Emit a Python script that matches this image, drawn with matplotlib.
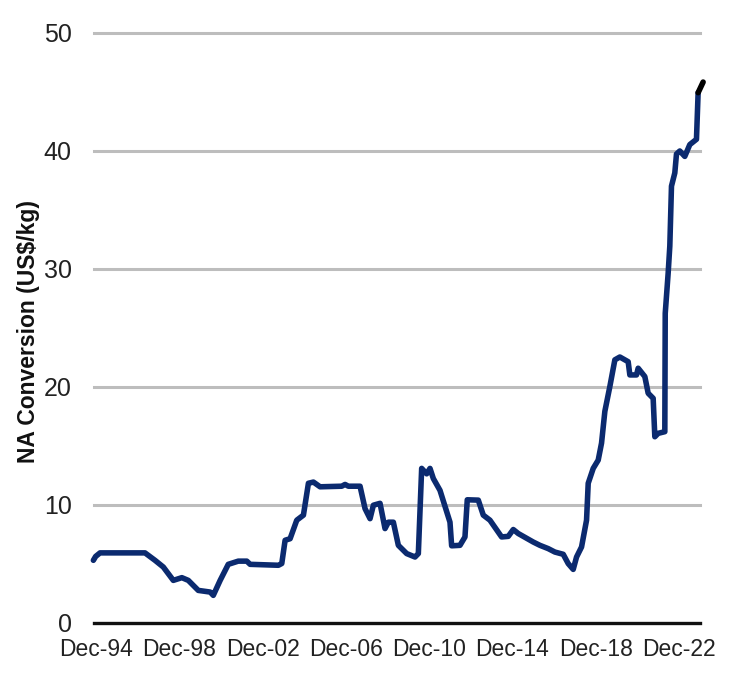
import matplotlib
matplotlib.use("Agg")
import matplotlib.pyplot as plt

# Data (decimal years, US$/kg)
years = [1994.79, 1994.9, 1995.11, 1997.27, 1997.75, 1998.15, 1998.63, 1999.04, 1999.35,
         1999.83, 2000.4, 2000.55, 2000.88, 2001.27, 2001.75, 2002.16, 2002.32, 2003.68,
         2003.84, 2004.0, 2004.24, 2004.56, 2004.88, 2005.12, 2005.36, 2005.68, 2006.72,
         2006.88, 2007.04, 2007.6, 2007.84, 2008.08, 2008.24, 2008.56, 2008.8, 2008.96,
         2009.2, 2009.44, 2009.84, 2010.24, 2010.4, 2010.56, 2010.8, 2010.96, 2011.12,
         2011.44, 2011.92, 2012.0, 2012.4, 2012.64, 2012.75, 2013.28, 2013.52, 2013.84,
         2014.4, 2014.72, 2014.96, 2015.2, 2015.92, 2016.24, 2016.64, 2016.96, 2017.36,
         2017.6, 2017.84, 2018.0, 2018.24, 2018.48, 2018.56, 2018.8, 2019.04, 2019.2,
         2019.36, 2019.6, 2019.84, 2020.08, 2020.48, 2020.56, 2020.88, 2020.96, 2021.28,
         2021.44, 2021.68, 2021.76, 2021.92, 2022.24, 2022.26, 2022.4, 2022.48, 2022.56,
         2022.72, 2022.8, 2022.96, 2023.2, 2023.44, 2023.76, 2023.84]
values = [5.27, 5.6, 5.9, 5.9, 5.27, 4.7, 3.57, 3.8, 3.57,
          2.72, 2.58, 2.3, 3.57, 4.93, 5.2, 5.2, 4.93, 4.85,
          5.0, 6.97, 7.1, 8.67, 9.1, 11.8, 11.9, 11.5, 11.55,
          11.7, 11.55, 11.55, 9.65, 8.8, 9.94, 10.1, 7.96, 8.5,
          8.5, 6.54, 5.84, 5.55, 5.84, 13.06, 12.6, 13.06, 12.2,
          11.2, 8.5, 6.5, 6.54, 7.25, 10.4, 10.37, 9.1, 8.67,
          7.25, 7.3, 7.88, 7.54, 6.82, 6.54, 6.26, 5.97, 5.78,
          4.99, 4.5, 5.55, 6.4, 8.67, 11.8, 13.06, 13.76, 15.2,
          17.9, 20.0, 22.26, 22.5, 22.1, 20.98, 20.98, 21.55, 20.84,
          19.43, 19.0, 15.74, 16.03, 16.17, 26.2, 29.6, 31.9, 36.98,
          38.1, 39.7, 39.96, 39.5, 40.5, 40.95, 44.9]
# latest segment drawn in black
tail_years = [2023.84, 2024.08]
tail_values = [44.9, 45.8]

tick_years = [1994.92, 1998.92, 2002.92, 2006.92, 2010.92, 2014.92, 2018.92, 2022.92]
tick_labels = ["Dec-94", "Dec-98", "Dec-02", "Dec-06", "Dec-10", "Dec-14", "Dec-18", "Dec-22"]
y_ticks = [0, 10, 20, 30, 40, 50]

plt.rcParams['font.family'] = ['Liberation Sans', 'DejaVu Sans']

fig = plt.figure(figsize=(7.37, 6.79), dpi=100)
ax = fig.add_axes([94/737, 1 - 622.5/679, (700-94)/737, (622.5-32.5)/679])

for y in y_ticks[1:]:
    ax.axhline(y, color='#bdbdbd', lw=2.2, zorder=1, clip_on=False)
ax.axhline(0, color='#111111', lw=2.4, zorder=2, clip_on=False)

ax.plot(years, values, color='#0b2a6f', lw=4.0, solid_joinstyle='round',
        solid_capstyle='round', zorder=3, clip_on=False)
ax.plot(tail_years, tail_values, color='#000000', lw=4.0, solid_capstyle='round',
        zorder=4, clip_on=False)

ax.set_xlim(1994.82, 2023.93)
ax.set_ylim(0, 50)
ax.set_yticks(y_ticks)
ax.set_xticks(tick_years)
ax.set_xticklabels(tick_labels)
ax.tick_params(axis='both', length=0, labelcolor='#222222')
ax.tick_params(axis='y', pad=16, labelsize=18)
ax.tick_params(axis='x', pad=11, labelsize=16.5)
for s in ax.spines.values():
    s.set_visible(False)

fig.text(29/737, 1 - 331/679, "NA Conversion (US$/kg)", rotation=90, fontsize=16.5,
         fontweight='bold', color='#111111', ha='center', va='center')

fig.savefig("out.png", dpi=100)
